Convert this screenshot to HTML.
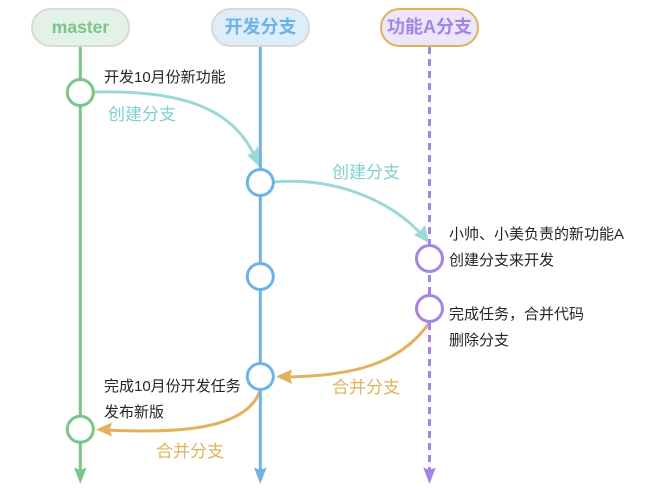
<!DOCTYPE html>
<html><head><meta charset="utf-8"><style>
html,body{margin:0;padding:0;background:#fff}
svg{display:block}
text{font-family:"Liberation Sans","Noto Sans CJK SC",sans-serif}
.t{font-size:15px;fill:#262626}
.l{font-size:17px}
.h{font-size:18px;font-weight:bold;text-anchor:middle}
</style></head><body>
<svg width="651" height="489" viewBox="0 0 651 489" xmlns="http://www.w3.org/2000/svg">
<rect x="32" y="9" width="97" height="37" rx="18.5" fill="#e3f2e7" stroke="#d9d9d9" stroke-width="2"/>
<rect x="212" y="9" width="97" height="37" rx="18.5" fill="#deedfa" stroke="#d9d9d9" stroke-width="2"/>
<rect x="381" y="9" width="97" height="37" rx="18.5" fill="#ece6fa" stroke="#e0b25c" stroke-width="2"/>
<text class="h" x="80.5" y="33" fill="#7cc48a" style="font-size:17.5px">master</text>
<text class="h" x="260.5" y="33" fill="#6db3e8">开发分支</text>
<text class="h" x="429.5" y="33" fill="#a585e3">功能A分支</text>

<path d="M94 92 C175 90 232 105 255 157" fill="none" stroke="#9bd8d8" stroke-width="3"/>
<polygon points="260,167.500 247,155 253,153 258,146" fill="#9bd8d8"/>
<path d="M274 182 C335 177 390 200 422 235" fill="none" stroke="#9bd8d8" stroke-width="3"/>
<polygon points="429,243 414,235 420,231 425,225" fill="#9bd8d8"/>
<path d="M429 323 C400 365 350 376 287 377" fill="none" stroke="#e0b25c" stroke-width="3"/>
<polygon points="276,376.500 292,369.500 290,376.500 292,384" fill="#e0b25c"/>
<path d="M260 391 C245 432 170 433 106 430" fill="none" stroke="#e0b25c" stroke-width="3"/>
<polygon points="96,429.500 112,422.500 110,429.500 112,436.500" fill="#e0b25c"/>

<line x1="80.3" y1="47" x2="80.3" y2="472" stroke="#7cc48a" stroke-width="3"/>
<line x1="260.3" y1="47" x2="260.3" y2="472" stroke="#6db3e8" stroke-width="3"/>
<line x1="429.5" y1="47" x2="429.5" y2="470" stroke="#a585e3" stroke-width="3" stroke-dasharray="7 5"/>
<polygon points="74,467.500 80.300,470 86.600,467.500 80.300,484" fill="#7cc48a"/>
<polygon points="254,467.500 260.300,470 266.600,467.500 260.300,484" fill="#6db3e8"/>
<polygon points="423.200,467.500 429.500,470 435.800,467.500 429.500,484" fill="#a585e3"/>

<g fill="#fff" stroke-width="3">
<circle cx="80.300" cy="92.500" r="13" stroke="#7cc48a"/>
<circle cx="80.300" cy="429.300" r="13" stroke="#7cc48a"/>
<circle cx="260.300" cy="182.500" r="13" stroke="#6db3e8"/>
<circle cx="260.300" cy="276.500" r="13" stroke="#6db3e8"/>
<circle cx="260.300" cy="376.500" r="13" stroke="#6db3e8"/>
<circle cx="429.500" cy="258.500" r="13" stroke="#a585e3"/>
<circle cx="429.500" cy="308.500" r="13" stroke="#a585e3"/>
</g>

<text class="t" x="104" y="82">开发10月份新功能</text>
<text class="t" x="449" y="239">小帅、小美负责的新功能A</text>
<text class="t" x="449" y="265">创建分支来开发</text>
<text class="t" x="449" y="319">完成任务，合并代码</text>
<text class="t" x="449" y="345">删除分支</text>
<text class="t" x="104" y="391">完成10月份开发任务</text>
<text class="t" x="104" y="417">发布新版</text>

<text class="l" x="108" y="120" fill="#7fcfcf">创建分支</text>
<text class="l" x="332" y="178" fill="#7fcfcf">创建分支</text>
<text class="l" x="332" y="393" fill="#e0b25c">合并分支</text>
<text class="l" x="156" y="457" fill="#e0b25c">合并分支</text>
</svg>
</body></html>
